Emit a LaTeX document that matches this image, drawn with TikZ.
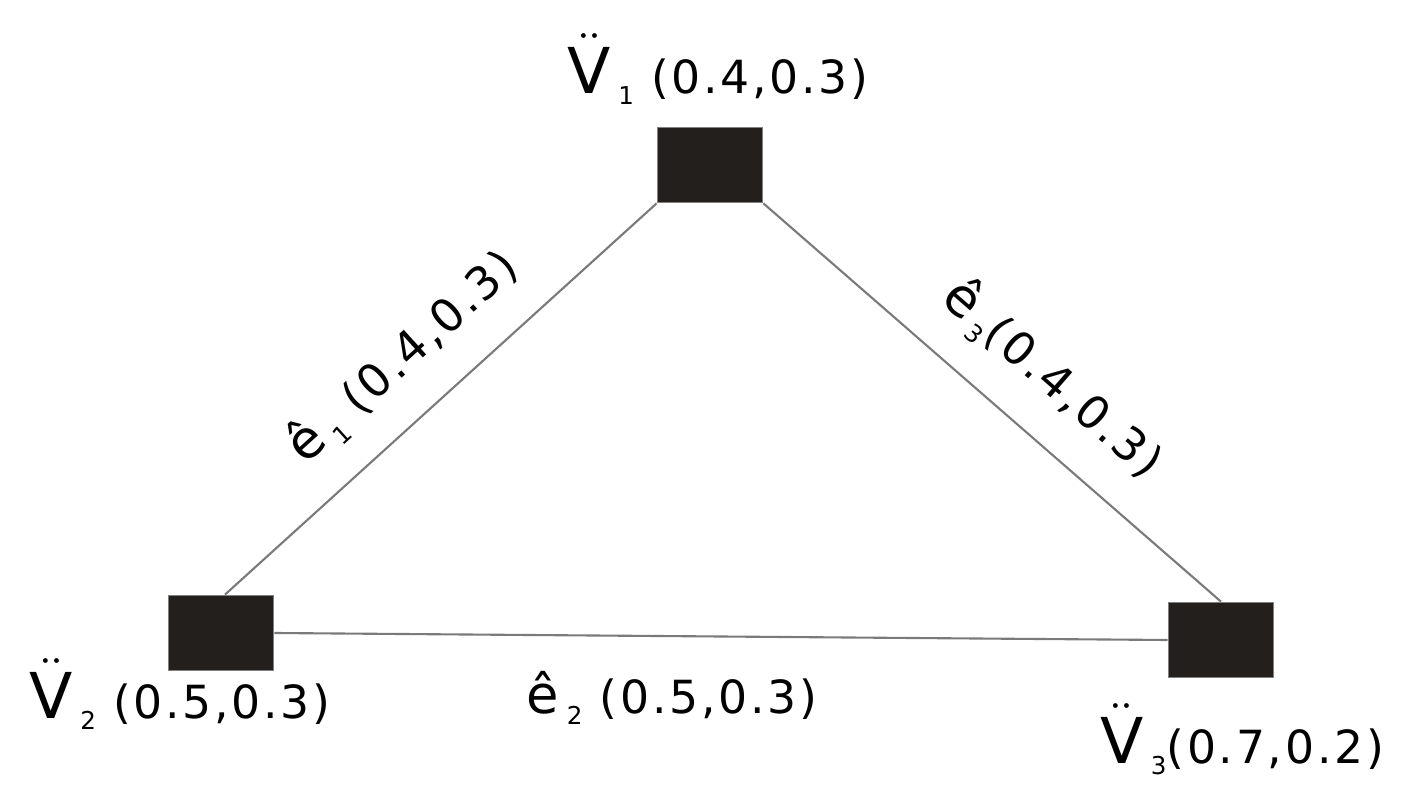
\documentclass[tikz,border=0pt]{standalone}
\usepackage{fontspec}
\setmainfont{DejaVu Sans}
\newfontfamily\labfont{DejaVu Sans}[LetterSpace=6]
\usetikzlibrary{positioning}
\definecolor{NodeDark}{HTML}{231F1C}
\definecolor{NodeRim}{HTML}{808080}
\definecolor{EdgeGray}{HTML}{7A7A7A}
% vertex and edge names
\newcommand{\vname}[1]{{\fontsize{18}{18}\selectfont$\ddot{\hbox{V}}$}\,\raisebox{-3pt}{\fontsize{7}{7}\selectfont #1}}
\newcommand{\ename}[1]{{\fontsize{15}{15}\selectfont ê}\,\raisebox{-3pt}{\fontsize{7}{7}\selectfont #1}}

\begin{document}
\begin{tikzpicture}[
            vbox/.style={draw=NodeRim, fill=NodeDark, line width=0.5pt, minimum width=1.05cm, minimum height=0.75cm, inner sep=0pt},
            edge/.style={draw=EdgeGray, line width=0.6pt},
            lab/.style={inner sep=0pt, font=\labfont\fontsize{13}{14}\selectfont}
        ]
            \useasboundingbox (0,0) rectangle (14.22,7.93);
            % Vertices
            \node[vbox] (v1) at (7.10,6.28) {};
            \node[vbox] (v2) at (2.21,1.60) {};
            \node[vbox] (v3) at (12.21,1.53) {};

            % Vertex labels
            \node[lab] (l1) at (7.18,7.24) {\vname{1} (0.4,0.3)};
            \node[lab] (l2) at (1.80,0.99) {\vname{2} (0.5,0.3)};
            \node[lab] (l3) at (12.42,0.54) {\vname{3}(0.7,0.2)};

            % Edges
            \draw[edge] (v2.north) ++(0.04,0) coordinate (c2) (c2) -- (v1.south west)
                node[lab, midway, sloped, above=0.3cm] (le1) {\ename{1} (0.4,0.3)};
            \draw[edge] (v1.south east) -- (v3.north)
                node[lab, pos=0.55, sloped, above=0.3cm] (le3) {\ename{3}(0.4,0.3)};
            \draw[edge] (v2.east) -- (v3.west);
            \node[lab] (le2) at (6.72,0.95) {\ename{2} (0.5,0.3)};
        \end{tikzpicture}
\end{document}
